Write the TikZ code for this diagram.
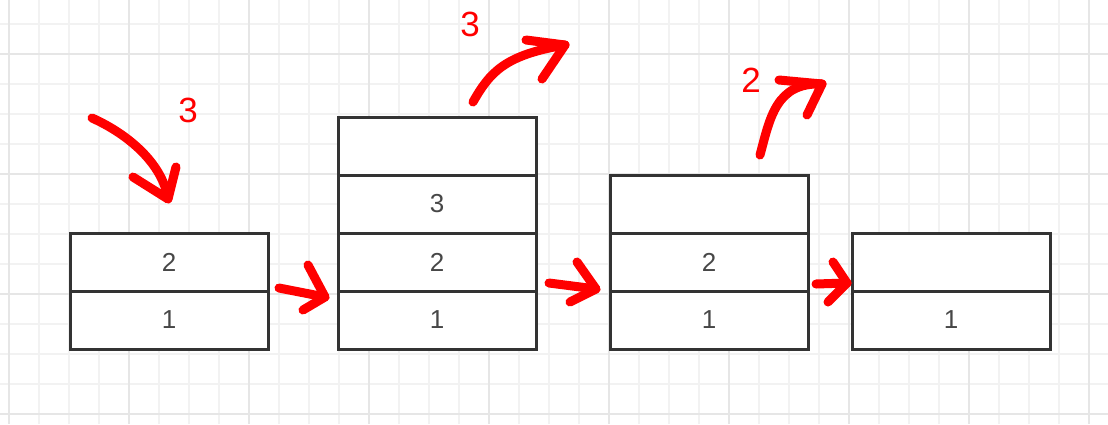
\documentclass[tikz,border=0pt]{standalone}
\usepackage{fontspec}
\setmainfont{Liberation Sans}

\definecolor{boxline}{HTML}{333333}
\definecolor{gridlo}{HTML}{F2F2F2}
\definecolor{gridhi}{HTML}{E6E6E6}
\definecolor{pen}{HTML}{FF0000}

\tikzset{
  cell/.style={draw=boxline, line width=3pt, fill=white, minimum width=198pt,
    minimum height=58pt, inner sep=0pt, text=boxline!90, font=\fontsize{26}{26}\selectfont},
  ink/.style={draw=pen, line width=9pt, line cap=round, line join=round},
  tag/.style={text=pen, font=\fontsize{35}{35}\selectfont, inner sep=0pt}
}

\begin{document}
\begin{tikzpicture}[x=1pt,y=-1pt]
\fill[white] (0,0) rectangle (1108,424);
\useasboundingbox (0,0) rectangle (1108,424);

% grid paper
\foreach \x in {9,39,...,1089} \draw[gridlo, line width=1.2pt] (\x,0) -- (\x,424);
\foreach \y in {24,54,...,414} \draw[gridlo, line width=1.2pt] (0,\y) -- (1108,\y);
\foreach \x in {9,129,...,1089} \draw[gridhi, line width=1.4pt] (\x,0) -- (\x,424);
\foreach \y in {54,174,294,414} \draw[gridhi, line width=1.4pt] (0,\y) -- (1108,\y);

% stacks
\node[cell] (a1) at (169,320) {1};
\node[cell] (a2) at (169,262) {2};

\node[cell] (b1) at (437,320) {1};
\node[cell] (b2) at (437,262) {2};
\node[cell] (b3) at (437,204) {3};
\node[cell] (b4) at (437,146) {};

\node[cell] (c1) at (709,320) {1};
\node[cell] (c2) at (709,262) {2};
\node[cell] (c3) at (709,204) {};

\node[cell] (d1) at (951,320) {1};
\node[cell] (d2) at (951,262) {};

% red marks
\node[tag] (push) at (188,110) {3};
\node[tag] (pop3) at (470,24) {3};
\node[tag] (pop2) at (751,80) {2};

\coordinate (in s) at (92,118);   \coordinate (in t) at (168,199);
\coordinate (out3 s) at (473,102); \coordinate (out3 t) at (565,45);
\coordinate (out2 s) at (760,155); \coordinate (out2 t) at (822,84);
\coordinate (ab s) at (279,288);  \coordinate (ab t) at (325,297);
\coordinate (bc s) at (549,283);  \coordinate (bc t) at (596,289);
\coordinate (cd s) at (816,284);  \coordinate (cd t) at (847,283);

\draw[ink] (in s) .. controls (130,135) and (163,165) .. (in t);
\draw[ink] (133,177) -- (in t) -- (176,167);

\draw[ink] (out3 s) .. controls (490,72) and (505,55) .. (out3 t);
\draw[ink] (526,40) -- (out3 t) -- (542,79);

\draw[ink] (out2 s) .. controls (770,118) and (776,82) .. (out2 t);
\draw[ink] (779,80) -- (out2 t) -- (807,115);

\draw[ink] (ab s) -- (ab t);
\draw[ink] (308,265) -- (ab t) -- (303,310);

\draw[ink] (bc s) -- (bc t);
\draw[ink] (577,262) -- (bc t) -- (570,302);

\draw[ink] (cd s) -- (cd t);
\draw[ink] (833,262) -- (cd t) -- (828,302);
\end{tikzpicture}
\end{document}
